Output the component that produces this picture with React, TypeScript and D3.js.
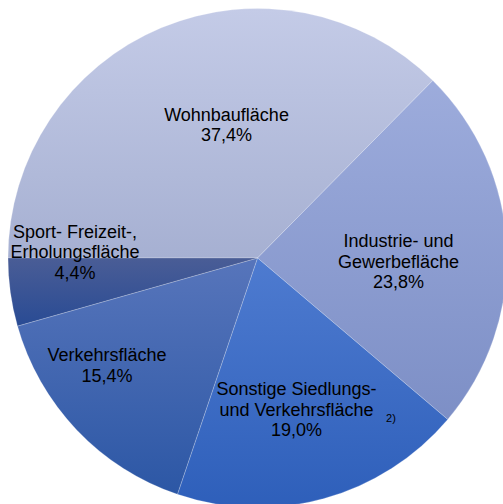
import React from "react";
import * as d3 from "d3";

const categories = [
  "Wohnbaufläche",
  "Industrie- und Gewerbefläche",
  "Sonstige Siedlungs- und Verkehrsfläche",
  "Verkehrsfläche",
  "Sport- Freizeit-, Erholungsfläche",
];
const values = [37.4, 23.8, 19.0, 15.4, 4.4];
const labelLines = [
  ["Wohnbaufläche", "37,4%"],
  ["Industrie- und", "Gewerbefläche", "23,8%"],
  ["Sonstige Siedlungs-", "und Verkehrsfläche", "19,0%"],
  ["Verkehrsfläche", "15,4%"],
  ["Sport- Freizeit-,", "Erholungsfläche", "4,4%"],
];
const footnotes = ["", "", "2)", "", ""];

// layout / style (not data)
const W = 503;
const H = 504;
const CX = 257.5;
const CY = 258;
const R = 249.5;
const gradTop = ["#C4CBE7", "#9DACDC", "#4E7BD0", "#5775BB", "#4A5D96"];
const gradBottom = ["#A6B0D2", "#7D8FC6", "#2E5FBA", "#2C57A5", "#294B94"];
// label anchors: [center x, first baseline y] relative to pie center
const labelAnchor: [number, number][] = [
  [-31, -137.5],
  [141, -11],
  [39, 137],
  [-150.5, 103],
  [-182.5, -20.5],
];
const footAnchor: [number, number][] = [[0, 0], [0, 0], [133.5, 164], [0, 0], [0, 0]];
const LINE_H = 20.6;

export default function App() {
  const pie = d3
    .pie<number>()
    .sort(null)
    .value((d) => d)
    .startAngle(-Math.PI / 2)
    .endAngle((3 * Math.PI) / 2);
  const arcs = pie(values);
  const arc = d3.arc<d3.PieArcDatum<number>>().innerRadius(0).outerRadius(R);

  return (
    <svg
      width={W}
      height={H}
      style={{ position: "fixed", left: 0, top: 0, background: "#fff" }}
      fontFamily="Liberation Sans, Arial, sans-serif"
    >
      <defs>
        {categories.map((c, i) => (
          <linearGradient key={c} id={`g${i}`} x1="0" y1="0" x2="0" y2="1">
            <stop offset="0%" stopColor={gradTop[i]} />
            <stop offset="100%" stopColor={gradBottom[i]} />
          </linearGradient>
        ))}
      </defs>
      <g transform={`translate(${CX},${CY})`}>
        {arcs.map((a, i) => (
          <path
            key={categories[i]}
            d={arc(a) || ""}
            fill={`url(#g${i})`}
            stroke="rgba(255,255,255,0.35)"
            strokeWidth={0.6}
          />
        ))}
        {labelLines.map((lines, i) => (
          <text
            key={"l" + i}
            x={labelAnchor[i][0]}
            y={labelAnchor[i][1]}
            textAnchor="middle"
            fontSize={18}
            fill="#000"
          >
            {lines.map((ln, j) => (
              <tspan key={j} x={labelAnchor[i][0]} y={labelAnchor[i][1] + j * LINE_H}>
                {ln}
              </tspan>
            ))}
          </text>
        ))}
        {footnotes.map((f, i) =>
          f ? (
            <text
              key={"f" + i}
              x={footAnchor[i][0]}
              y={footAnchor[i][1]}
              textAnchor="middle"
              fontSize={11}
              fill="#000"
            >
              {f}
            </text>
          ) : null
        )}
      </g>
    </svg>
  );
}
